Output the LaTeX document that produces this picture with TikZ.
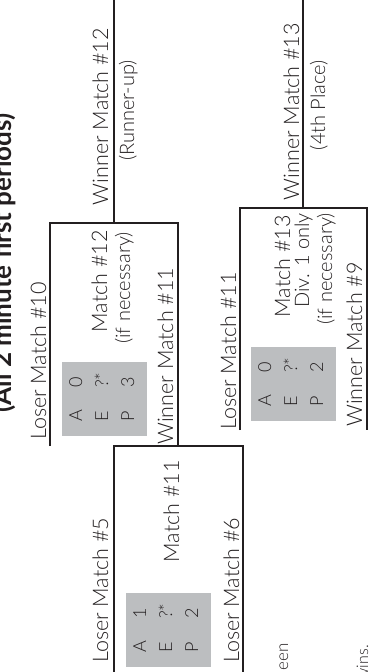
\documentclass[tikz,border=0pt]{standalone}
\usepackage{fontspec}
\setmainfont{Lato}[UprightFont=* Light, BoldFont=* Bold]
\definecolor{ink}{HTML}{231F20}
\definecolor{boxgray}{HTML}{BCBEC0}
\newcommand{\bigsz}{\fontsize{21.5}{25}\selectfont}
\newcommand{\smsz}{\fontsize{20}{23}\selectfont}
\newcommand{\scsz}{\fontsize{18}{21}\selectfont}
\newcommand{\scorerow}[2]{\makebox[34pt][l]{#1}#2}
\begin{document}
\begin{tikzpicture}[x=1pt,y=-1pt,
  rot/.style={rotate=90, inner sep=0pt, text=ink, font=\bigsz},
  rotsm/.style={rot, font=\smsz},
  rotsc/.style={rot, font=\scsz},
  bline/.style={line width=2.4pt, draw=ink, line join=miter},
  scorebox/.style={fill=boxgray, draw=none, inner sep=0pt, minimum width=85pt, minimum height=74pt}
]
\useasboundingbox (0,0) rectangle (370,672);
\clip (0,0) rectangle (370,672);

% title
\node[rot, font=\bfseries\fontsize{26}{30}\selectfont, anchor=base] (title) at (12,263) {(All 2 minute first periods)};

% bracket coordinates
\coordinate (m11a) at (114,672);
\coordinate (m11b) at (114,446);
\coordinate (m11c) at (243,446);
\coordinate (m11d) at (243,672);
\coordinate (m11o) at (178,446);
\coordinate (m12a) at (50,446);
\coordinate (m12b) at (50,223);
\coordinate (m12c) at (178,223);
\coordinate (m12o) at (114,223);
\coordinate (top12) at (114,0);
\coordinate (m13a) at (240,430);
\coordinate (m13b) at (240,208);
\coordinate (m13c) at (367,208);
\coordinate (m13d) at (367,430);
\coordinate (m13o) at (303,208);
\coordinate (top13) at (303,0);

\draw[bline] (m11a) -- (m11b) -- (m11c) -- (m11d);
\draw[bline] (m12a) -- (m12b) -- (m12c) -- (m11o);
\draw[bline] (m12o) -- (top12);
\draw[bline] (m13a) -- (m13b) -- (m13c) -- (m13d);
\draw[bline] (m13o) -- (top13);

% score boxes
\node[scorebox] (sA) at (104.5,399) {};
\node[scorebox] (sB) at (168.5,630) {};
\node[scorebox] (sC) at (293.5,384) {};

\node[rotsc, anchor=base west] (sA1) at (82,422) {\scorerow{A}{0}};
\node[rotsc, anchor=base west] (sA2) at (108,422) {\scorerow{E}{?*}};
\node[rotsc, anchor=base west] (sA3) at (134,422) {\scorerow{P}{3}};

\node[rotsc, anchor=base west] (sB1) at (146,653) {\scorerow{A}{1}};
\node[rotsc, anchor=base west] (sB2) at (172,653) {\scorerow{E}{?*}};
\node[rotsc, anchor=base west] (sB3) at (198,653) {\scorerow{P}{2}};

\node[rotsc, anchor=base west] (sC1) at (271,407) {\scorerow{A}{0}};
\node[rotsc, anchor=base west] (sC2) at (297,407) {\scorerow{E}{?*}};
\node[rotsc, anchor=base west] (sC3) at (323,407) {\scorerow{P}{2}};

% match 11
\node[rot, anchor=base west] (l5) at (108,663) {Loser Match \#5};
\node[rot, anchor=base west] (l6) at (239,663) {Loser Match \#6};
\node[rot, anchor=base east] (m11) at (179,460) {Match \#11};

% match 12
\node[rot, anchor=base west] (w11) at (173,445) {Winner Match \#11};
\node[rot, anchor=base west] (l10) at (46,440) {Loser Match \#10};
\node[rot, anchor=base east] (m12) at (107,230) {Match \#12};
\node[rotsm, anchor=base east] (n12) at (130,232) {(if necessary)};
\node[rot, anchor=base east] (w12) at (108,28) {Winner Match \#12};
\node[rotsm, anchor=base east] (ru) at (134,60) {(Runner-up)};

% match 13
\node[rot, anchor=base west] (l11) at (236,430) {Loser Match \#11};
\node[rot, anchor=base east] (m13) at (290,215) {Match \#13};
\node[rotsm, anchor=base east] (d1) at (309,213) {Div. 1 only};
\node[rotsm, anchor=base east] (n13) at (332,213) {(if necessary)};
\node[rot, anchor=base west] (w9) at (362,427) {Winner Match \#9};
\node[rot, anchor=base east] (w13) at (299,23) {Winner Match \#13};
\node[rotsm, anchor=base east] (fp) at (325,60) {(4th Place)};

% clipped notes
\node[rot, font=\fontsize{17}{20}\selectfont, anchor=base east] (nt1) at (288,643) {een};
\node[rot, font=\fontsize{16}{19}\selectfont, anchor=base east] (nt2) at (368,645) {wins.};
\end{tikzpicture}
\end{document}
